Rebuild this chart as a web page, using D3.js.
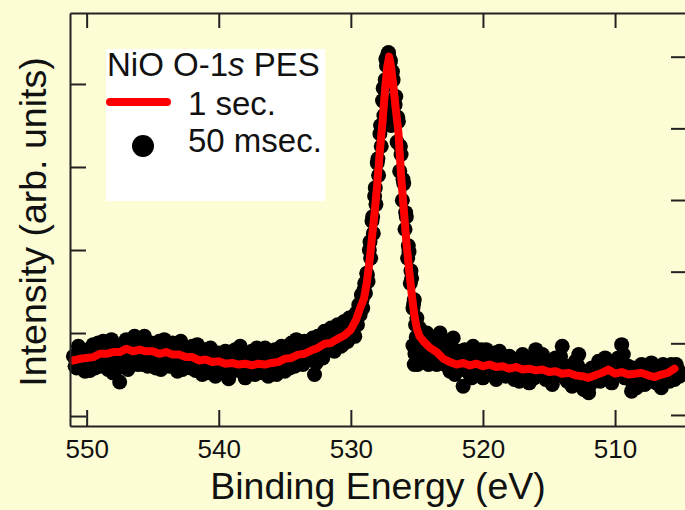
<!DOCTYPE html>
<html><head><meta charset="utf-8">
<script src="https://cdn.jsdelivr.net/npm/d3@7"></script>
<style>
html,body{margin:0;padding:0;background:#FDFDD5;}
svg{display:block;font-family:"Liberation Sans",Arial,sans-serif;}
</style></head>
<body>
<script>
// ---- data ----
const xTicks = [550, 540, 530, 520, 510];
const leftTicks = [0, 1, 2, 3, 4];
const rightTicks = [0, 1, 2, 3, 4, 5];

// 1 sec. spectrum (line)
const lineEnergy = [551.0,550.5,550.0,549.5,549.0,548.5,548.0,547.5,547.0,546.5,546.0,545.5,545.0,544.5,544.0,543.5,543.0,542.5,542.0,541.5,541.0,540.5,540.0,539.5,539.0,538.5,538.0,537.5,537.0,536.5,536.0,535.5,535.0,534.5,534.0,533.5,533.0,532.5,532.0,531.5,531.0,530.5,530.0,529.6,529.3,529.0,528.8,528.6,528.4,528.2,528.0,527.8,527.6,527.4,527.25,527.1,526.95,526.8,526.6,526.4,526.2,526.0,525.8,525.6,525.4,525.2,525.0,524.8,524.5,524.0,523.5,523.0,522.5,522.0,521.5,521.0,520.5,520.0,519.5,519.0,518.5,518.0,517.5,517.0,516.5,516.0,515.5,515.0,514.5,514.0,513.5,513.0,512.5,512.0,511.5,511.0,510.5,510.0,509.5,509.0,508.5,508.0,507.5,507.0,506.5,506.0,505.5];
const lineIntensity = [0.67,0.69,0.70,0.71,0.75,0.75,0.77,0.77,0.81,0.78,0.80,0.78,0.78,0.75,0.77,0.74,0.74,0.71,0.71,0.67,0.68,0.65,0.66,0.63,0.64,0.62,0.63,0.61,0.63,0.62,0.64,0.65,0.69,0.70,0.74,0.75,0.79,0.82,0.87,0.88,0.93,0.97,1.04,1.16,1.30,1.42,1.60,1.84,2.15,2.45,2.80,3.20,3.55,3.95,4.20,4.33,4.20,4.00,3.70,3.42,2.90,2.50,2.10,1.78,1.48,1.22,1.05,0.96,0.90,0.82,0.77,0.69,0.65,0.62,0.64,0.61,0.63,0.60,0.62,0.59,0.60,0.57,0.59,0.56,0.57,0.55,0.56,0.53,0.54,0.51,0.52,0.49,0.48,0.46,0.49,0.52,0.56,0.51,0.53,0.50,0.51,0.52,0.49,0.47,0.50,0.52,0.57];

// 50 msec. spectrum (dots), main grid
const dotEnergy = [551.0,550.75,550.5,550.25,550.0,549.75,549.5,549.25,549.0,548.75,548.5,548.25,548.0,547.75,547.5,547.25,547.0,546.75,546.5,546.25,546.0,545.75,545.5,545.25,545.0,544.75,544.5,544.25,544.0,543.75,543.5,543.25,543.0,542.75,542.5,542.25,542.0,541.75,541.5,541.25,541.0,540.75,540.5,540.25,540.0,539.75,539.5,539.25,539.0,538.75,538.5,538.25,538.0,537.75,537.5,537.25,537.0,536.75,536.5,536.25,536.0,535.75,535.5,535.25,535.0,534.75,534.5,534.25,534.0,533.75,533.5,533.25,533.0,532.75,532.5,532.25,532.0,531.75,531.5,531.25,531.0,530.75,530.5,530.25,530.0,
529.9,529.8,529.7,529.6,529.5,529.4,529.3,529.2,529.1,529.0,528.9,528.8,528.7,528.6,528.5,528.4,528.3,528.2,528.1,528.0,527.9,527.8,527.7,527.6,527.5,527.4,527.3,527.2,527.1,527.0,526.9,526.8,526.7,526.6,526.5,526.4,526.3,526.2,526.1,526.0,525.9,525.8,525.7,525.6,525.5,525.4,525.3,525.2,525.1,525.0,524.9,524.8,524.7,527.2,526.95,525.2,
524.5,524.25,524.0,523.75,523.5,523.25,523.0,522.75,522.5,522.25,522.0,521.75,521.5,521.25,521.0,520.75,520.5,520.25,520.0,519.75,519.5,519.25,519.0,518.75,518.5,518.25,518.0,517.75,517.5,517.25,517.0,516.75,516.5,516.25,516.0,515.75,515.5,515.25,515.0,514.75,514.5,514.25,514.0,513.75,513.5,513.25,513.0,512.75,512.5,512.25,512.0,511.75,511.5,511.25,511.0,510.75,510.5,510.25,510.0,509.75,509.5,509.25,509.0,508.75,508.5,508.25,508.0,507.75,507.5,507.25,507.0,506.75,506.5,506.25,506.0,505.75,505.5,505.25,505.0];
const dotIntensity = [0.72,0.58,0.80,0.62,0.74,0.55,0.86,0.70,0.60,0.90,0.68,0.78,0.52,0.84,0.41,0.74,0.92,0.66,0.92,0.72,0.86,0.62,0.90,0.70,0.82,0.58,0.90,0.68,0.80,0.60,0.88,0.66,0.85,0.56,0.76,0.62,0.84,0.55,0.74,0.50,0.80,0.58,0.70,0.48,0.76,0.52,0.78,0.45,0.66,0.80,0.55,0.72,0.46,0.62,0.78,0.50,0.70,0.56,0.82,0.48,0.68,0.80,0.58,0.84,0.54,0.76,0.88,0.60,0.82,0.66,0.90,0.70,0.86,0.50,0.96,0.74,1.02,0.80,1.06,0.78,1.10,0.84,1.14,0.90,1.08,
1.02,1.20,0.96,1.24,1.10,1.34,1.22,1.46,1.30,1.52,1.48,1.72,1.62,2.00,1.90,2.35,2.20,2.65,2.55,3.05,2.90,3.40,3.25,3.80,3.62,4.05,4.22,4.36,4.32,4.28,4.10,4.05,3.60,3.85,3.30,3.55,2.95,3.15,2.60,2.80,2.25,2.40,1.90,1.98,1.60,1.66,1.30,1.40,1.10,1.18,0.88,1.06,0.80,3.70,3.50,0.62,
0.70,1.00,0.68,0.92,0.62,1.00,0.72,0.86,0.54,0.94,0.60,0.78,0.36,0.70,0.50,0.84,0.58,0.76,0.46,0.80,0.56,0.70,0.44,0.78,0.60,0.48,0.72,0.54,0.66,0.42,0.74,0.56,0.40,0.68,0.80,0.50,0.74,0.44,0.62,0.38,0.70,0.56,0.84,0.46,0.60,0.36,0.66,0.74,0.40,0.52,0.28,0.58,0.44,0.66,0.50,0.70,0.60,0.40,0.56,0.70,0.86,0.46,0.60,0.30,0.54,0.42,0.62,0.38,0.56,0.64,0.42,0.60,0.34,0.58,0.48,0.62,0.44,0.56,0.50];

// 50 msec. spectrum (dots), intermediate points
const dotEnergyB = [550.875,550.625,550.375,550.125,549.875,549.625,549.375,549.125,548.875,548.625,548.375,548.125,547.875,547.625,547.375,547.125,546.875,546.625,546.375,546.125,545.875,545.625,545.375,545.125,544.875,544.625,544.375,544.125,543.875,543.625,543.375,543.125,542.875,542.625,542.375,542.125,541.875,541.625,541.375,541.125,540.875,540.625,540.375,540.125,539.875,539.625,539.375,539.125,538.875,538.625,538.375,538.125,537.875,537.625,537.375,537.125,536.875,536.625,536.375,536.125,535.875,535.625,535.375,535.125,534.875,534.625,534.375,534.125,533.875,533.625,533.375,533.125,532.875,532.625,532.375,532.125,531.875,531.625,531.375,531.125,530.875,530.625,530.375,530.125,
529.75,529.45,529.15,528.95,528.75,528.55,528.35,528.15,527.95,527.75,527.55,527.35,527.15,527.05,526.85,526.65,526.45,526.25,526.05,525.85,525.65,525.45,525.3,525.25,525.15,525.05,524.95,524.85,524.75,
524.375,524.125,523.875,523.625,523.375,523.125,522.875,522.625,522.375,522.125,521.875,521.625,521.375,521.125,520.875,520.625,520.375,520.125,519.875,519.625,519.375,519.125,518.875,518.625,518.375,518.125,517.875,517.625,517.375,517.125,516.875,516.625,516.375,516.125,515.875,515.625,515.375,515.125,514.875,514.625,514.375,514.125,513.875,513.625,513.375,513.125,512.875,512.625,512.375,512.125,511.875,511.625,511.375,511.125,510.875,510.625,510.375,510.125,509.875,509.625,509.375,509.125,508.875,508.625,508.375,508.125,507.875,507.625,507.375,507.125,506.875,506.625,506.375,506.125,505.875,505.625,505.375,505.125];
const dotIntensityB = [0.60,0.84,0.66,0.54,0.80,0.64,0.58,0.88,0.62,0.82,0.56,0.92,0.64,0.58,0.86,0.68,0.56,0.82,0.96,0.62,0.76,0.96,0.60,0.88,0.68,0.78,0.56,0.92,0.72,0.62,0.80,0.54,0.90,0.66,0.82,0.58,0.72,0.86,0.62,0.76,0.52,0.82,0.64,0.56,0.70,0.60,0.52,0.76,0.58,0.70,0.84,0.62,0.54,0.70,0.60,0.82,0.64,0.52,0.74,0.58,0.66,0.50,0.72,0.80,0.62,0.58,0.76,0.92,0.70,0.62,0.82,0.76,0.94,0.64,0.88,0.70,0.96,0.84,0.98,0.92,1.04,0.86,1.00,1.18,
1.08,1.20,1.40,1.60,1.70,2.10,2.40,2.75,3.10,3.50,3.95,4.30,4.38,4.25,4.15,3.75,3.60,3.25,2.85,2.45,2.05,1.75,0.85,1.35,0.75,0.95,0.62,0.78,1.00,
0.86,0.62,0.80,0.94,0.70,0.84,0.62,0.76,0.82,0.50,0.70,0.56,0.80,0.62,0.46,0.70,0.64,0.80,0.56,0.66,0.50,0.76,0.62,0.52,0.70,0.56,0.66,0.44,0.62,0.70,0.48,0.64,0.54,0.46,0.66,0.58,0.64,0.50,0.56,0.46,0.62,0.72,0.50,0.42,0.58,0.48,0.62,0.56,0.32,0.44,0.38,0.52,0.60,0.42,0.58,0.48,0.66,0.48,0.62,0.56,0.74,0.52,0.44,0.58,0.34,0.50,0.60,0.46,0.52,0.58,0.40,0.54,0.62,0.50,0.42,0.58,0.62,0.48];

// ---- drawing ----
const W = 685, H = 510;
const FONT = "Liberation Sans, Arial, sans-serif";
const svg = d3.select("body").append("svg").attr("width", W).attr("height", H);
svg.append("rect").attr("width", W).attr("height", H).attr("fill", "#FDFDD5");

const plot = {left: 70, right: 686, top: 13, bottom: 426};
const x = d3.scaleLinear().domain([551.26, 504.63]).range([plot.left, plot.right]);
const y = d3.scaleLinear().domain([-0.12, 4.855]).range([plot.bottom, plot.top]);
const yR = d3.scaleLinear().domain([-0.154, 5.61]).range([plot.bottom, plot.top]);

// dots
const dots = dotEnergy.map((e, i) => [e, dotIntensity[i]])
  .concat(dotEnergyB.map((e, i) => [e, dotIntensityB[i]]));
svg.append("g").selectAll("circle").data(dots)
  .join("circle").attr("cx", d => x(d[0])).attr("cy", d => y(d[1])).attr("r", 7.5).attr("fill", "#000");

// line
svg.append("path").datum(lineEnergy.map((e, i) => [e, lineIntensity[i]]))
  .attr("d", d3.line().x(d => x(d[0])).y(d => y(d[1])))
  .attr("fill", "none").attr("stroke", "#FF0000").attr("stroke-width", 8)
  .attr("stroke-linejoin", "round").attr("stroke-linecap", "round");

// axes
function styleAxis(g) {
  g.selectAll(".domain").attr("stroke", "#222").attr("stroke-width", 2);
  g.selectAll(".tick line").attr("stroke", "#222").attr("stroke-width", 2);
}
const gB = svg.append("g").attr("transform", `translate(0,${plot.bottom})`)
  .call(d3.axisBottom(x).tickValues(xTicks).tickSizeInner(-16).tickSizeOuter(0).tickPadding(14));
styleAxis(gB);
gB.selectAll("text").attr("font-size", 26).attr("fill", "#111").attr("font-family", FONT);

const gT = svg.append("g").attr("transform", `translate(0,${plot.top})`)
  .call(d3.axisTop(x).tickValues(xTicks).tickSizeInner(-15).tickSizeOuter(0).tickFormat(""));
styleAxis(gT);

const gL = svg.append("g").attr("transform", `translate(${plot.left},0)`)
  .call(d3.axisLeft(y).tickValues(leftTicks).tickSizeInner(-16).tickSizeOuter(0).tickFormat(""));
styleAxis(gL);

const gR = svg.append("g").attr("transform", `translate(${plot.right},0)`)
  .call(d3.axisRight(yR).tickValues(rightTicks).tickSizeInner(-15).tickSizeOuter(0).tickFormat(""));
styleAxis(gR);

// axis titles
svg.append("text").attr("x", 378).attr("y", 499).attr("text-anchor", "middle")
  .attr("font-size", 37.5).attr("fill", "#111").text("Binding Energy (eV)");
svg.append("text").attr("transform", "translate(46,222) rotate(-90)").attr("text-anchor", "middle")
  .attr("font-size", 37.5).attr("fill", "#111").text("Intensity (arb. units)");

// legend
const lg = svg.append("g");
lg.append("rect").attr("x", 106).attr("y", 49).attr("width", 219).attr("height", 152).attr("fill", "#fff");
const t = lg.append("text").attr("x", 107).attr("y", 76).attr("font-size", 33).attr("fill", "#111");
t.append("tspan").text("NiO O-1");
t.append("tspan").attr("font-style", "italic").text("s");
t.append("tspan").text(" PES");
lg.append("line").attr("x1", 110).attr("x2", 167).attr("y1", 102).attr("y2", 102)
  .attr("stroke", "#FF0000").attr("stroke-width", 8).attr("stroke-linecap", "round");
lg.append("text").attr("x", 188).attr("y", 115).attr("font-size", 33).attr("fill", "#111").text("1 sec.");
lg.append("circle").attr("cx", 143).attr("cy", 146).attr("r", 11).attr("fill", "#000");
lg.append("text").attr("x", 188).attr("y", 152).attr("font-size", 33).attr("fill", "#111").text("50 msec.");
</script>
</body></html>
